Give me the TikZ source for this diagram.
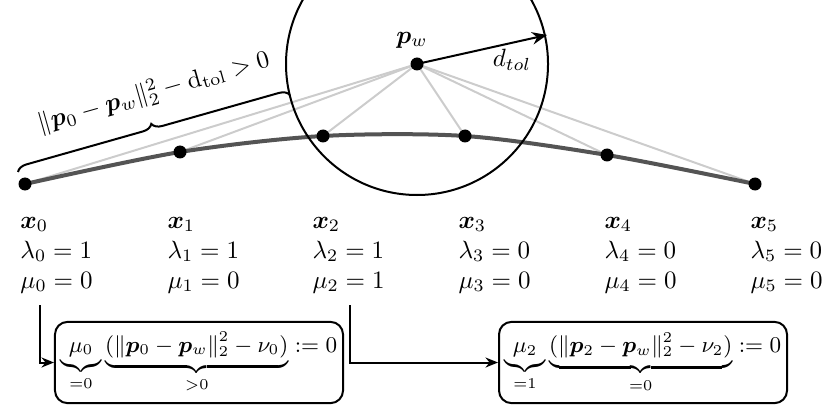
\documentclass[tikz,border=0pt]{standalone}
\usepackage{amsmath,bm}
\usetikzlibrary{decorations.pathreplacing,arrows.meta,calc}
\begin{document}
\begin{tikzpicture}[x=0.4pt,y=0.4pt,
  dot/.style={circle,fill=black,inner sep=0pt,minimum size=5.2pt},
  ray/.style={draw=black!20,line width=0.8pt},
  traj/.style={draw=black!67,line width=1.6pt},
  eqbox/.style={draw,rounded corners=5pt,line width=0.8pt,minimum width=115.2pt,minimum height=32.5pt,inner sep=2pt,font=\small},
  conn/.style={line width=0.8pt,-{Stealth[length=5pt,width=4pt]}},
  lab/.style={anchor=base west,inner sep=0pt}]
\clip (0,0) rectangle (830,-412);
\coordinate (c0) at (25,-184);
\coordinate (c1) at (180,-152);
\coordinate (c2) at (323,-136);
\coordinate (c3) at (465,-136);
\coordinate (c4) at (607,-155);
\coordinate (c5) at (755,-184);
\coordinate (cw) at (417,-64);
\foreach \i in {0,...,5} \draw[ray] (cw) -- (c\i);
\draw[traj] plot[smooth] coordinates {(c0) (c1) (c2) (c3) (c4) (c5)};
\draw[line width=0.8pt] (cw) circle[radius=52.4pt];
\foreach \i in {0,...,5} \node[dot] (x\i) at (c\i) {};
\node[dot] (pw) at (cw) {};
\node (pwl) at (412,-40) {$\bm{p}_w$};
\coordinate (rt) at (547,-35);
\draw[line width=0.8pt,-{Stealth[length=6pt,width=5pt]}] (pw.center) -- (rt);
\node (dl) at (512,-60) {$d_{tol}$};
\draw[line width=0.8pt, decorate, decoration={brace,amplitude=4pt}] (18,-172) -- (290,-95)
  node[pos=0.54, sloped, above=7pt] (bl) {$\|\bm{p}_0-\bm{p}_w\|_2^2-\mathrm{d}_{\mathrm{tol}}>0$};
\foreach \i/\xx/\lv/\mv in {0/20/1/0,1/167/1/0,2/312/1/1,3/458/0/0,4/604/0/0,5/750/0/0} {
  \node[lab] (xl\i) at (\xx,-228) {$\bm{x}_{\i}$};
  \node[lab] (ll\i) at (\xx,-258) {$\lambda_{\i} = \lv$};
  \node[lab] (ml\i) at (\xx,-288) {$\mu_{\i} = \mv$};
}
\node[eqbox] (b0) at (199,-362.5) {$\underbrace{\mu_0}_{=0}\underbrace{(\|\bm{p}_0-\bm{p}_w\|_2^2-\nu_0)}_{>0} := 0$};
\node[eqbox] (b1) at (643,-362.5) {$\underbrace{\mu_2}_{=1}\underbrace{(\|\bm{p}_2-\bm{p}_w\|_2^2-\nu_2)}_{=0} := 0$};
\coordinate (s0) at (40,-305);
\coordinate (s2) at (350,-305);
\draw[conn] (s0) |- (b0.west);
\draw[conn] (s2) |- (b1.west);
\end{tikzpicture}
\end{document}
